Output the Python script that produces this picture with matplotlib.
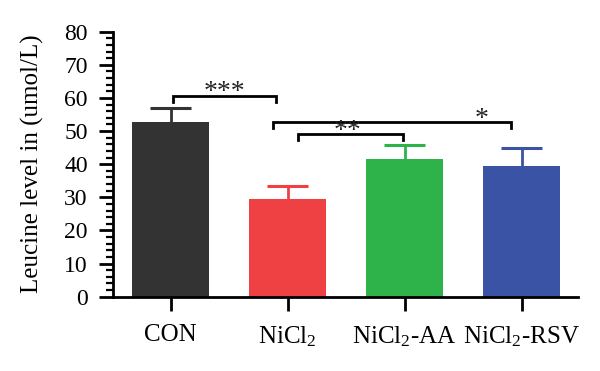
import matplotlib
matplotlib.use("Agg")
import matplotlib.pyplot as plt
from matplotlib.ticker import MultipleLocator

plt.rcParams['font.family'] = ['Liberation Serif', 'DejaVu Serif']
plt.rcParams['mathtext.fontset'] = 'custom'
plt.rcParams['mathtext.rm'] = 'Liberation Serif'
plt.rcParams['mathtext.it'] = 'Liberation Serif:italic'

categories = ['CON', r'NiCl$_2$', r'NiCl$_2$-AA', r'NiCl$_2$-RSV']
values = [52.6, 29.5, 41.5, 39.6]
errors = [4.5, 3.9, 4.3, 5.2]
colors = ['#333333', '#EF4043', '#2DB34A', '#3A53A4']

# significance brackets: (x_left, x_right, y, label, label_x, label_y)
sig_brackets = [
    (0.02, 0.90, 60.7, '***', 0.46, 59.8),
    (0.875, 2.91, 52.8, '*', 2.66, 51.4),
    (1.09, 1.99, 49.2, '**', 1.515, 47.8),
]
tick_drop = 1.8
cap_half = 0.175

fig = plt.figure(figsize=(6.0, 3.71), dpi=100)
ax = fig.add_axes([0.188, 0.2003, 0.775, 0.7143])

x = list(range(len(categories)))
ax.bar(x, values, width=0.655, color=colors, zorder=2)
for xi, v, e, c in zip(x, values, errors, colors):
    ax.vlines(xi, v, v + e, color=c, lw=2.0, zorder=1)
    ax.hlines(v + e, xi - cap_half, xi + cap_half, color=c, lw=2.2, zorder=1)

for xl, xr, y, lab, lx, ly in sig_brackets:
    ax.plot([xl, xl, xr, xr], [y - tick_drop, y, y, y - tick_drop],
            color='black', lw=2.0, solid_joinstyle='miter', zorder=3)
    ax.text(lx, ly, lab, ha='center', va='baseline', fontsize=20, color='#222222')

ax.set_xlim(-0.493, 3.48)
ax.set_ylim(0, 80)
ax.set_xticks(x)
ax.set_xticklabels(categories, fontsize=18)
ax.yaxis.set_major_locator(MultipleLocator(10))
ax.yaxis.set_minor_locator(MultipleLocator(2))
ax.tick_params(axis='y', which='major', length=10, width=2, labelsize=17, pad=8)
ax.tick_params(axis='y', which='minor', length=5, width=1.6)
ax.tick_params(axis='x', which='major', length=10, width=2, pad=10)
ax.spines['top'].set_visible(False)
ax.spines['right'].set_visible(False)
ax.spines['left'].set_linewidth(2)
ax.spines['bottom'].set_linewidth(2)
ax.set_ylabel('Leucine level in (umol/L)', fontsize=18)
ax.yaxis.set_label_coords(-0.148, 0.5)

fig.savefig('out.png', dpi=100)
